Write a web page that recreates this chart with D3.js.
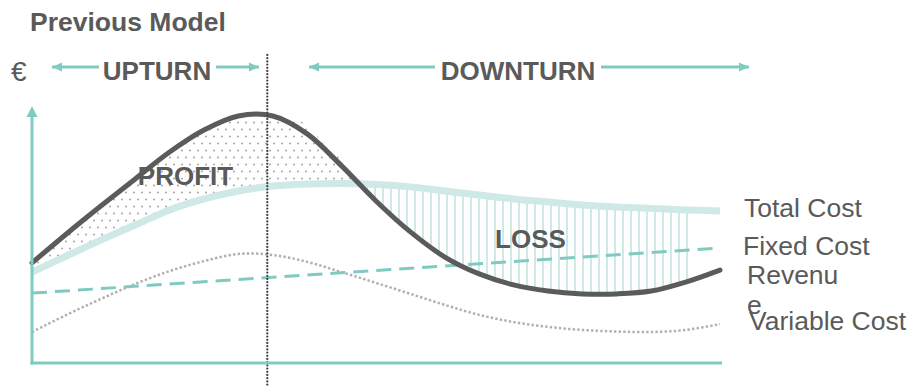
<!DOCTYPE html>
<html>
<head>
<meta charset="utf-8">
<script src="https://cdn.jsdelivr.net/npm/d3@7"></script>
<style>
  html, body { margin: 0; padding: 0; background: #fff; }
  svg { display: block; font-family: "Liberation Sans", Arial, sans-serif; }
</style>
</head>
<body>
<div id="chart"></div>
<script>
// ---- data ----
const timeSteps = [0,5,10,15,20,25,30,35,40,45,50,55,60,65,70,75,80,85,90,95,100];
const revenue = [39.1,50.4,61.3,71.9,82.4,91.0,96.5,96.5,89.5,77.0,63.3,51.2,41.4,34.8,30.5,28.1,27.0,27.0,28.1,31.6,36.3];
const totalCost = [35.5,41.8,48.0,53.9,59.8,64.1,67.2,69.1,69.9,70.1,69.7,68.8,67.2,65.6,64.1,62.9,61.7,60.9,60.4,59.8,59.4];
const variableCost = [12.1,18.8,25.0,30.9,35.9,39.8,42.6,42.2,39.5,35.5,31.3,27.0,22.7,18.8,16.0,14.1,12.9,12.3,12.1,12.9,15.2];
const fixedCostT = [0, 100];
const fixedCost = [27.3, 44.9];
const profitSpillT = [34.2, 39, 44.8, 47.4];
const profitSpill = [97.7, 94.9, 80.1, 72.0];
const phaseSplitT = 34.2;
const lossEndT = 95.5;
const phaseLabels = ["UPTURN", "DOWNTURN"];
const areaLabels = ["PROFIT", "LOSS"];
const legendLabels = ["Total Cost", "Fixed Cost", "Revenu", "Variable Cost"];
const title = "Previous Model";

// ---- setup ----
const W = 911, H = 387;
const x = d3.scaleLinear().domain([0, 100]).range([32, 720]);
const y = d3.scaleLinear().domain([0, 100]).range([363, 107]);
const teal = "#7fcbc1", lightTeal = "#cfe9e7", dark = "#5b5b5b", txt = "#5a5a5a";

const svg = d3.select("#chart").append("svg").attr("width", W).attr("height", H);
const defs = svg.append("defs");

const dots = defs.append("pattern").attr("id", "dots").attr("patternUnits", "userSpaceOnUse")
  .attr("width", 8).attr("height", 14);
dots.append("circle").attr("cx", 2).attr("cy", 3.5).attr("r", 1.1).attr("fill", "#adadad");
dots.append("circle").attr("cx", 6).attr("cy", 10.5).attr("r", 1.1).attr("fill", "#adadad");

const vlines = defs.append("pattern").attr("id", "vlines").attr("patternUnits", "userSpaceOnUse")
  .attr("width", 8).attr("height", 8);
vlines.append("rect").attr("x", 6).attr("y", 0).attr("width", 2).attr("height", 8).attr("fill", lightTeal);

// crossing of revenue and total cost (downward)
let crossT = 47;
for (let i = 1; i < timeSteps.length; i++) {
  const d0 = revenue[i-1] - totalCost[i-1], d1 = revenue[i] - totalCost[i];
  if (d0 > 0 && d1 <= 0) { crossT = timeSteps[i-1] + (timeSteps[i]-timeSteps[i-1]) * d0 / (d0 - d1); break; }
}

defs.append("clipPath").attr("id", "clipProfit").append("rect")
  .attr("x", 0).attr("y", 0).attr("width", x(crossT)).attr("height", H);
defs.append("clipPath").attr("id", "clipLoss").append("rect")
  .attr("x", x(crossT)).attr("y", 0).attr("width", x(lossEndT) - x(crossT)).attr("height", H);

const idx = d3.range(timeSteps.length);
const curve = d3.curveCatmullRom.alpha(0.5);
const betweenArea = d3.area().curve(curve)
  .x(i => x(timeSteps[i])).y0(i => y(totalCost[i])).y1(i => y(revenue[i]));

// profit
svg.append("path").attr("d", betweenArea(idx)).attr("fill", "url(#dots)").attr("clip-path", "url(#clipProfit)");
const spillPts = profitSpillT.map((t, i) => [x(t), y(profitSpill[i])]);
const revBack = idx.filter(i => timeSteps[i] > phaseSplitT && timeSteps[i] < profitSpillT[profitSpillT.length-1])
  .reverse().map(i => [x(timeSteps[i]), y(revenue[i])]);
svg.append("path").attr("d", d3.line()(spillPts.concat(revBack)) + "Z").attr("fill", "url(#dots)");

// loss
svg.append("path").attr("d", betweenArea(idx)).attr("fill", "url(#vlines)").attr("clip-path", "url(#clipLoss)");

// lines
const line = (vals, ts) => d3.line().curve(curve).x((d, i) => x(ts[i])).y(d => y(d))(vals);

svg.append("path").attr("d", line(variableCost, timeSteps)).attr("fill", "none")
  .attr("stroke", "#b0b0b0").attr("stroke-width", 2.5).attr("stroke-dasharray", "2.4,2.2");
svg.append("path").attr("d", line(fixedCost, fixedCostT)).attr("fill", "none")
  .attr("stroke", teal).attr("stroke-width", 3).attr("stroke-dasharray", "15,8");
svg.append("path").attr("d", line(totalCost, timeSteps)).attr("fill", "none")
  .attr("stroke", lightTeal).attr("stroke-width", 7);
svg.append("path").attr("d", line(revenue, timeSteps)).attr("fill", "none")
  .attr("stroke", dark).attr("stroke-width", 5).attr("stroke-linecap", "round");

// phase divider
svg.append("line").attr("x1", x(phaseSplitT)).attr("x2", x(phaseSplitT)).attr("y1", 55).attr("y2", H)
  .attr("stroke", "#444").attr("stroke-width", 2.3).attr("stroke-linecap", "round").attr("stroke-dasharray", "0,3.2");

// axes
svg.append("line").attr("x1", x(0)).attr("x2", x(0)).attr("y1", y(0) + 1.5).attr("y2", 116)
  .attr("stroke", teal).attr("stroke-width", 3);
svg.append("path").attr("d", `M${x(0)},106 L${x(0)-5.5},117 L${x(0)+5.5},117 Z`).attr("fill", teal);
svg.append("line").attr("x1", x(0) - 1.5).attr("x2", 722).attr("y1", y(0)).attr("y2", y(0))
  .attr("stroke", teal).attr("stroke-width", 3);

// header arrows
function arrow(x1, x2, yy, dir) {
  svg.append("line").attr("x1", x1).attr("x2", x2).attr("y1", yy).attr("y2", yy)
    .attr("stroke", teal).attr("stroke-width", 3);
  const tip = dir < 0 ? x1 : x2;
  const base = tip - dir * 10;
  svg.append("path").attr("d", `M${tip},${yy} L${base},${yy-4.5} L${base},${yy+4.5} Z`).attr("fill", teal);
}
arrow(52, 99, 67, -1);
arrow(216, 259, 67, 1);
arrow(309, 435, 67, -1);
arrow(601, 749, 67, 1);

// text
svg.append("text").attr("x", 30).attr("y", 31).attr("font-size", 26.5).attr("font-weight", "bold")
  .attr("fill", txt).text(title);
svg.append("text").attr("x", 11).attr("y", 81).attr("font-size", 28).attr("fill", txt).text("€");
svg.append("text").attr("x", 157).attr("y", 80).attr("text-anchor", "middle").attr("font-size", 26)
  .attr("font-weight", "bold").attr("fill", txt).text(phaseLabels[0]);
svg.append("text").attr("x", 518).attr("y", 80).attr("text-anchor", "middle").attr("font-size", 26)
  .attr("font-weight", "bold").attr("fill", txt).text(phaseLabels[1]);
svg.append("text").attr("x", 185.5).attr("y", 185).attr("text-anchor", "middle").attr("font-size", 26)
  .attr("font-weight", "bold").attr("fill", txt).text(areaLabels[0]);
svg.append("text").attr("x", 530.5).attr("y", 248).attr("text-anchor", "middle").attr("font-size", 26)
  .attr("font-weight", "bold").attr("fill", txt).text(areaLabels[1]);

const lg = svg.append("g").attr("font-size", 26.5).attr("fill", txt);
lg.append("text").attr("x", 744).attr("y", 217).text(legendLabels[0]);
lg.append("text").attr("x", 743).attr("y", 255).text(legendLabels[1]);
lg.append("text").attr("x", 747).attr("y", 284).text(legendLabels[2]);
lg.append("text").attr("x", 747).attr("y", 314).text("e");
lg.append("text").attr("x", 749).attr("y", 330).text(legendLabels[3]);
</script>
</body>
</html>
